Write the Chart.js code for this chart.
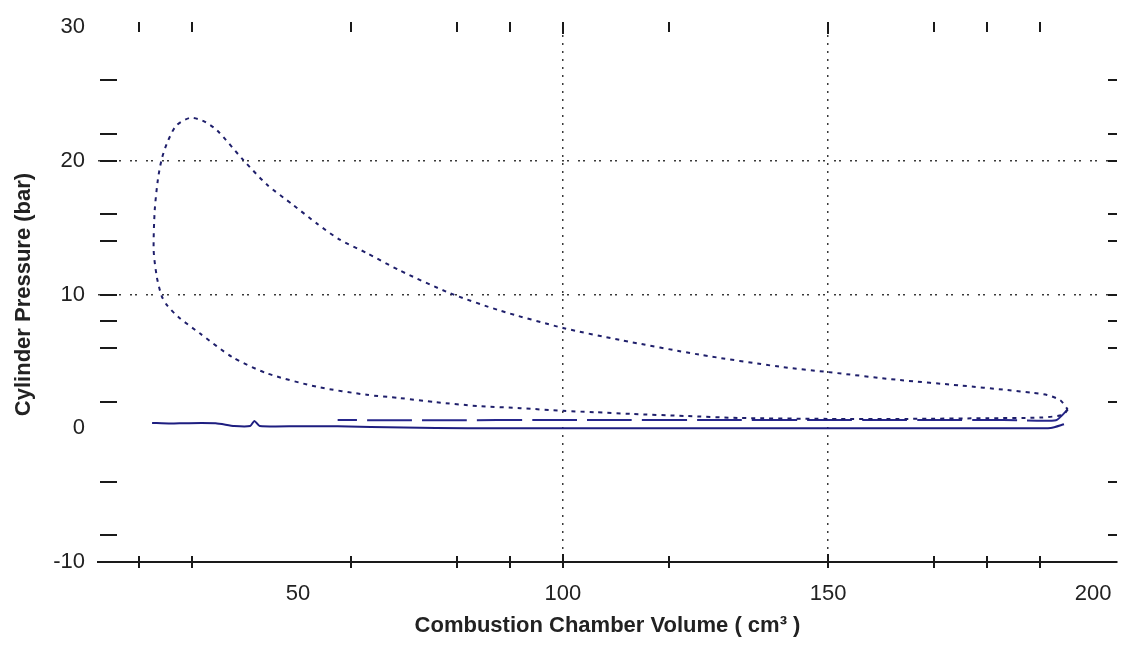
<!DOCTYPE html>
<html>
<head>
<meta charset="utf-8">
<script src="https://cdn.jsdelivr.net/npm/chart.js@4/dist/chart.umd.min.js"></script>
<style>
    body { margin: 0; background: #fff; }
    canvas { display: block; }
</style>
</head>
<body>
<canvas id="pvChart" width="1121" height="650"></canvas>
<script>
// compression -> combustion -> expansion loop
const loopVolume = [195.2, 194.3, 190, 180, 165, 150, 133, 123, 113, 106, 100, 92, 84, 76, 69.2, 63, 53.6, 44.2, 37.7, 31.5,
    27.5, 25.3, 24.3, 23.4, 22.8, 23.0, 23.6, 24.3, 25.3, 27, 29.6, 32, 34.7, 39.6, 44.2, 49.1, 53.6, 57.9, 63, 69.2,
    78.7, 88.1, 100, 110.8, 125.8, 140.9, 150, 163.6, 174.9, 183.8, 188.7, 191.3, 193.8, 195.2];
const loopPressure = [1.4, 1.0, 0.8, 0.75, 0.7, 0.7, 0.77, 0.92, 1.07, 1.2, 1.3, 1.5, 1.66, 1.95, 2.26, 2.5, 3.1, 4.1, 5.3, 7.1,
    8.3, 9.2, 9.9, 11.3, 13.3, 16.3, 18.6, 20.1, 21.3, 22.6, 23.2, 23.0, 22.3, 20.1, 18.2, 16.7, 15.3, 14.1, 13.1, 11.8,
    10.1, 8.8, 7.5, 6.6, 5.5, 4.6, 4.2, 3.6, 3.2, 2.86, 2.64, 2.49, 2.1, 1.4];

// pumping loop
const exhaustVolume = [195.2, 193, 186, 180, 170, 160, 150, 130, 110, 95, 80, 65, 57.5];
const exhaustPressure = [1.4, 0.6, 0.6, 0.62, 0.62, 0.62, 0.62, 0.62, 0.62, 0.62, 0.6, 0.6, 0.62];
const intakeVolume = [22.5, 26, 29, 34.5, 38, 41, 41.8, 42.8, 50, 57.5, 70, 82, 93.4, 110, 130, 150, 170, 185, 192, 194.5];
const intakePressure = [0.4, 0.35, 0.38, 0.37, 0.17, 0.17, 0.55, 0.17, 0.15, 0.15, 0.05, 0.0, 0.0, 0.0, 0.0, 0.0, 0.0, 0.0, 0.02, 0.3];

// axes
const xLabels = [50, 100, 150, 200];
const yLabels = [-10, 0, 10, 20, 30];
const xGrid = [100, 150];
const yGrid = [10, 20];
const xMinorTicks = [20, 30, 60, 80, 90, 100, 120, 150, 170, 180, 190];
const yMinorTicks = [26, 22, 20, 16, 14, 10, 8, 6, 2, -4, -8];

const toPoints = (xs, ys) => xs.map((v, i) => ({ x: v, y: ys[i] }));

const FONT = 'Liberation Sans, Arial, sans-serif';
const TEXT = '#222';

// old-style inward tick marks
const tickMarks = {
    id: 'tickMarks',
    afterDraw(chart) {
        const ctx = chart.ctx;
        const a = chart.chartArea;
        const xs = chart.scales.x;
        const ys = chart.scales.y;
        ctx.save();
        ctx.strokeStyle = '#1a1a1a';
        ctx.lineWidth = 2;
        ctx.beginPath();
        xMinorTicks.forEach(v => {
            const px = Math.round(xs.getPixelForValue(v));
            const big = xGrid.includes(v) ? 2 : 0;
            ctx.moveTo(px, a.bottom - 6 - big);
            ctx.lineTo(px, a.bottom + 6);
            ctx.moveTo(px, a.top - 5);
            ctx.lineTo(px, a.top + 5 + big);
        });
        yMinorTicks.forEach(v => {
            const py = Math.round(ys.getPixelForValue(v));
            ctx.moveTo(a.left + 2, py);
            ctx.lineTo(a.left + 19, py);
            ctx.moveTo(a.right - 9, py);
            ctx.lineTo(a.right, py);
        });
        ctx.stroke();
        ctx.restore();
    }
};

const ctx = document.getElementById('pvChart').getContext('2d');
new Chart(ctx, {
    type: 'line',
    data: {
        datasets: [
            {
                label: 'Cycle',
                data: toPoints(loopVolume, loopPressure),
                borderColor: '#1f1f6b',
                borderWidth: 2,
                borderDash: [4, 5],
                tension: 0.25,
                pointRadius: 0
            },
            {
                label: 'Exhaust',
                data: toPoints(exhaustVolume, exhaustPressure),
                borderColor: '#26268c',
                borderWidth: 2,
                borderDash: [45, 10],
                tension: 0.2,
                pointRadius: 0
            },
            {
                label: 'Intake',
                data: toPoints(intakeVolume, intakePressure),
                borderColor: '#1e1e80',
                borderWidth: 2,
                tension: 0.2,
                pointRadius: 0
            }
        ]
    },
    options: {
        responsive: false,
        animation: false,
        layout: { padding: { top: 27, right: 4, bottom: 0, left: 0 } },
        plugins: {
            legend: { display: false },
            tooltip: { enabled: false }
        },
        scales: {
            x: {
                type: 'linear',
                min: 12.3,
                max: 204.5,
                afterBuildTicks: scale => { scale.ticks = xLabels.map(v => ({ value: v })); },
                afterFit: scale => {
                    scale.height = 88;
                    scale.paddingLeft = 0;
                    scale.paddingRight = 0;
                },
                ticks: {
                    color: TEXT,
                    font: { family: FONT, size: 22 },
                    padding: 19,
                    maxRotation: 0
                },
                grid: {
                    drawTicks: false,
                    lineWidth: 1.5,
                    color: c => (c.tick && xGrid.includes(c.tick.value)) ? '#3a3a3a' : 'transparent'
                },
                border: { display: true, color: '#1a1a1a', width: 2, dash: [2, 6] },
                title: {
                    display: true,
                    text: 'Combustion Chamber Volume ( cm³ )',
                    color: TEXT,
                    font: { family: FONT, size: 22, weight: 'bold' },
                    padding: { top: 0, bottom: 11 }
                }
            },
            y: {
                type: 'linear',
                min: -10,
                max: 30,
                afterBuildTicks: scale => { scale.ticks = yLabels.map(v => ({ value: v })); },
                afterFit: scale => { scale.width = 98; },
                ticks: {
                    color: TEXT,
                    font: { family: FONT, size: 22 },
                    padding: 13
                },
                grid: {
                    drawTicks: false,
                    lineWidth: 1.5,
                    color: c => (c.tick && yGrid.includes(c.tick.value)) ? '#3a3a3a' : 'transparent'
                },
                border: { display: false, dash: [2, 3, 2, 9] },
                title: {
                    display: true,
                    text: 'Cylinder Pressure (bar)',
                    color: TEXT,
                    font: { family: FONT, size: 22, weight: 'bold' },
                    padding: { top: 11, bottom: 0 }
                }
            }
        }
    },
    plugins: [tickMarks]
});
</script>
</body>
</html>
